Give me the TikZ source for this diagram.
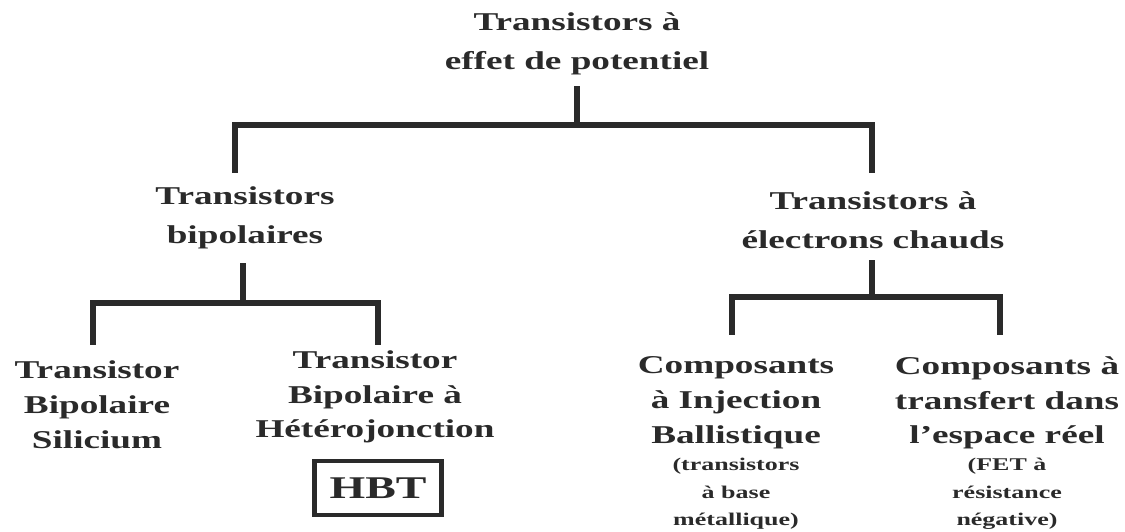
\documentclass[tikz,border=0pt]{standalone}
\usepackage{fontspec}
\newfontfamily\wideserif[FakeStretch=1.45]{Liberation Serif}
\definecolor{ink}{HTML}{2A2A2A}
\newdimen\unitpx \unitpx=0.02cm
\tikzset{
  lbl/.style={align=center, inner sep=0pt, text=ink,
    font=\wideserif\bfseries\fontsize{14.6}{19.8}\selectfont},
  head/.style={lbl, font=\wideserif\bfseries\fontsize{14.6}{22.2}\selectfont},
  note/.style={align=center, inner sep=0pt, text=ink,
    font=\wideserif\bfseries\fontsize{10.2}{15.6}\selectfont},
  tree/.style={draw=ink, line width=3pt, line join=miter, line cap=rect},
  tagbox/.style={draw=ink, line width=2.6pt, text=ink, inner sep=0pt,
    minimum width=127\unitpx, minimum height=54\unitpx,
    font=\wideserif\bfseries\fontsize{18}{20}\selectfont},
}
\begin{document}
\begin{tikzpicture}[x=0.02cm, y=-0.02cm]
\useasboundingbox (0,0) rectangle (1125,531);

% labels
\node[head] (top) at (577,44) {Transistors à\\effet de potentiel};
\node[head] (bip) at (245,218) {Transistors\\bipolaires};
\node[head] (hot) at (873,220) {Transistors à\\électrons chauds};
\node[lbl] (si)  at (97,405) {Transistor\\Bipolaire\\Silicium};
\node[lbl] (het) at (375,397) {Transistor\\Bipolaire à\\Hétérojonction};
\node[tagbox] (hbt) at (378,488) {HBT};
\node[lbl] (inj) at (736,403) {Composants\\à Injection\\Ballistique};
\node[note] (injn) at (736,494) {(transistors\\à base\\métallique)};
\node[lbl] (rsp) at (1007,403) {Composants à\\transfert dans\\l’espace réel};
\node[note] (rspn) at (1007,494) {(FET à\\résistance\\négative)};

% first level
\coordinate (t0) at (577,89);
\coordinate (t1) at (577,125);
\coordinate (tl) at (235,170);
\coordinate (tr) at (872,170);
\draw[tree] (t0) -- (t1);
\draw[tree] (tl) -- (tl |- t1) -- (tr |- t1) -- (tr);

% bipolar branch
\coordinate (b0) at (243,266);
\coordinate (b1) at (243,303);
\coordinate (bl) at (93,342);
\coordinate (br) at (378,342);
\draw[tree] (b0) -- (b1);
\draw[tree] (bl) -- (bl |- b1) -- (br |- b1) -- (br);

% hot-electron branch
\coordinate (h0) at (872,263);
\coordinate (h1) at (872,297);
\coordinate (hl) at (732,332);
\coordinate (hr) at (1000,332);
\draw[tree] (h0) -- (h1);
\draw[tree] (hl) -- (hl |- h1) -- (hr |- h1) -- (hr);
\end{tikzpicture}
\end{document}
